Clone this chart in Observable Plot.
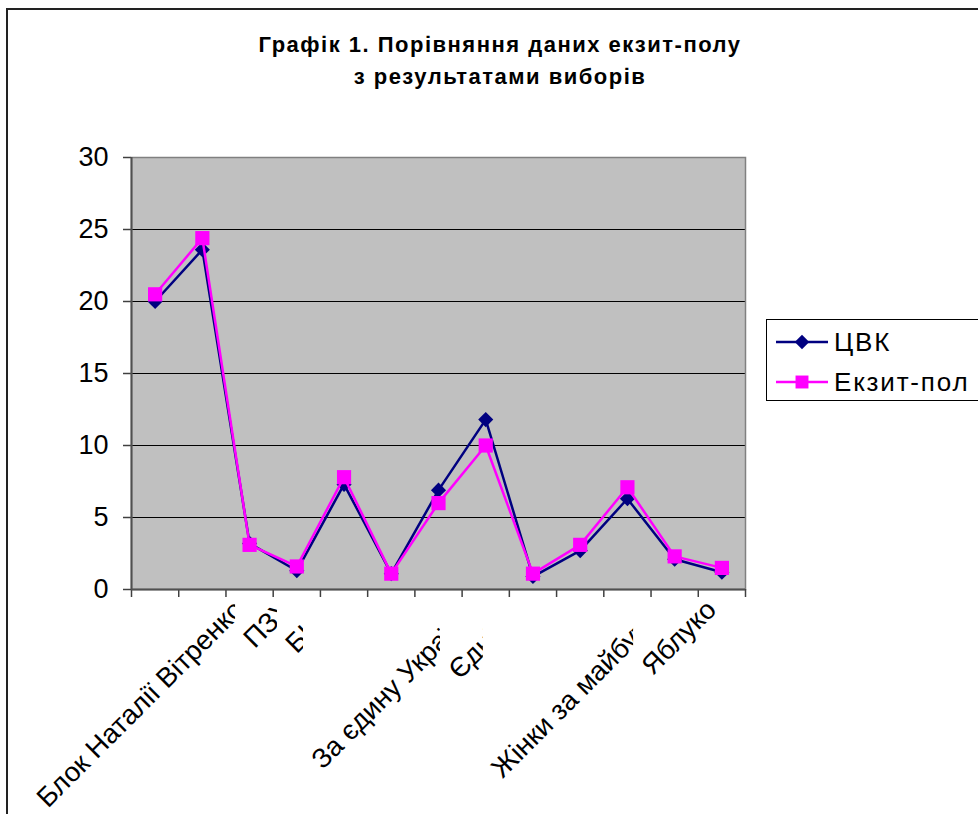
<!DOCTYPE html>
<html>
<head>
<meta charset="utf-8">
<script src="https://cdn.jsdelivr.net/npm/d3@7"></script>
<script src="https://cdn.jsdelivr.net/npm/@observablehq/plot@0.6"></script>
<style>
  html, body { margin: 0; padding: 0; overflow: hidden; background: #fff; }
  #wrap { position: relative; width: 978px; height: 814px; overflow: hidden;
          font-family: "Liberation Sans", Arial, sans-serif; color: #000; }
  #border { position: absolute; left: 6px; top: 8px; width: 1100px; height: 1000px;
            border-left: 2px solid #222; border-top: 2px solid #222; }
  #title { position: absolute; left: 0; top: 29px; width: 1000px; text-align: center;
           font-weight: bold; font-size: 22px; line-height: 32px; letter-spacing: 1.5px; }
  #chart { position: absolute; left: 0; top: 0; }
  #legend { position: absolute; left: 766px; top: 319px; width: 260px; height: 80px;
            border: 1px solid #000; background: #fff; }
</style>
</head>
<body>
<div id="wrap">
  <div id="border"></div>
  <div id="chart"></div>
  <div id="title">Графік 1. Порівняння даних екзит-полу<br>з результатами виборів</div>
  <div id="legend"></div>
</div>
<script>
// ---- data ----
const categories = ["КПУ", "Наша Україна", "Блок Наталії Вітренко", "ПЗУ", "БЮТ", "ДС", "СПУ",
                    "За єдину Україну!", "Єдність", "КОП", "СДПУ(о)", "Жінки за майбутнє", "Яблуко"];
const cvk      = [20.0, 23.6, 3.2, 1.3, 7.3, 1.1, 6.9, 11.8, 0.9, 2.7, 6.3, 2.1, 1.2];
const exitPoll = [20.5, 24.4, 3.1, 1.6, 7.8, 1.1, 6.0, 10.0, 1.1, 3.1, 7.1, 2.3, 1.5];
const yTicks = [0, 5, 10, 15, 20, 25, 30];
const seriesNames = ["ЦВК", "Екзит-пол"];
const seriesColors = ["#000080", "#FF00FF"];
const seriesSymbols = ["diamond2", "square"];

const rows = categories.map((name, i) => ({ name, pos: i + 0.5, cvk: cvk[i], exit: exitPoll[i] }));
const boundaries = d3.range(0, categories.length + 1);

const svg = Plot.plot({
  width: 978,
  height: 814,
  marginLeft: 131,
  marginRight: 233,
  marginTop: 157,
  marginBottom: 225,
  style: { fontFamily: "'Liberation Sans', Arial, sans-serif", background: "transparent", overflow: "visible", color: "#000" },
  x: { domain: [0, categories.length], axis: null },
  y: { domain: [0, 30], axis: null },
  marks: [
    Plot.frame({ fill: "#C0C0C0" }),
    Plot.gridY(yTicks, { stroke: "#000", strokeOpacity: 1, strokeWidth: 1 }),
    Plot.frame({ stroke: "#808080", strokeWidth: 1.5 }),
    Plot.axisY({ ticks: yTicks, tickSize: 8, tickPadding: 15, fontSize: 27, stroke: "#404040", strokeWidth: 1.5, label: null }),
    Plot.axisX({ ticks: boundaries, tickSize: 8, tickFormat: () => "", stroke: "#404040", strokeWidth: 1.5, label: null }),
    Plot.ruleX([0], { stroke: "#505050", strokeWidth: 2 }),
    Plot.ruleY([0], { stroke: "#505050", strokeWidth: 2 }),
    Plot.line(rows, { x: "pos", y: "cvk", stroke: seriesColors[0], strokeWidth: 2.5 }),
    Plot.dot(rows, { x: "pos", y: "cvk", symbol: seriesSymbols[0], r: 6.8, fill: seriesColors[0], stroke: "none" }),
    Plot.line(rows, { x: "pos", y: "exit", stroke: seriesColors[1], strokeWidth: 2.5 }),
    Plot.dot(rows, { x: "pos", y: "exit", symbol: seriesSymbols[1], r: 8, fill: seriesColors[1], stroke: "none" }),
    Plot.text(rows, { x: "pos", text: "name", frameAnchor: "bottom", rotate: -45, textAnchor: "end",
                      lineAnchor: "top", dx: -18, dy: 8, fontSize: 27.5, fill: "#000" })
  ]
});
document.getElementById("chart").append(svg);

// Excel-like clipping of overlapping category labels: each label is cut where a later label begins
(function clipLabels() {
  const g = svg.querySelector('g[aria-label="text"]');
  if (!g) return;
  const texts = Array.from(g.querySelectorAll("text"));
  const sr = svg.getBoundingClientRect();
  const lefts = texts.map(t => t.getBoundingClientRect().left - sr.left);
  const ctm = g.getCTM();
  const offX = ctm ? ctm.e : 0;
  const defs = d3.select(svg).append("defs");
  texts.forEach((t, i) => {
    let clipX = Infinity;
    for (let j = i + 1; j < texts.length; j++) clipX = Math.min(clipX, lefts[j] - 2);
    if (!isFinite(clipX)) return;
    const id = "lblclip" + i;
    const localX = clipX - offX;
    defs.append("clipPath").attr("id", id).attr("clipPathUnits", "userSpaceOnUse")
      .append("rect").attr("x", -5000).attr("y", -5000).attr("width", localX + 5000).attr("height", 10000);
    const wrap = document.createElementNS("http://www.w3.org/2000/svg", "g");
    wrap.setAttribute("clip-path", `url(#${id})`);
    t.parentNode.insertBefore(wrap, t);
    wrap.appendChild(t);
  });
})();

// legend
(function legend() {
  const L = d3.select("#legend").append("svg").attr("width", 260).attr("height", 80)
    .style("position", "absolute").style("left", "0px").style("top", "0px");
  seriesNames.forEach((name, i) => {
    const cy = 22 + i * 40;
    L.append("line").attr("x1", 9).attr("x2", 61).attr("y1", cy).attr("y2", cy)
      .attr("stroke", seriesColors[i]).attr("stroke-width", 2.5);
    const sym = i === 0 ? d3.symbolDiamond2 : d3.symbolSquare;
    const size = i === 0 ? Math.PI * 6.5 * 6.5 : Math.PI * 7.3 * 7.3;
    L.append("path").attr("d", d3.symbol(sym, size)()).attr("transform", `translate(35,${cy})`)
      .attr("fill", seriesColors[i]);
    L.append("text").attr("x", 67).attr("y", cy + 9).attr("font-size", 26)
      .attr("letter-spacing", 1.8)
      .attr("font-family", "'Liberation Sans', Arial, sans-serif").text(name);
  });
})();
</script>
</body>
</html>
